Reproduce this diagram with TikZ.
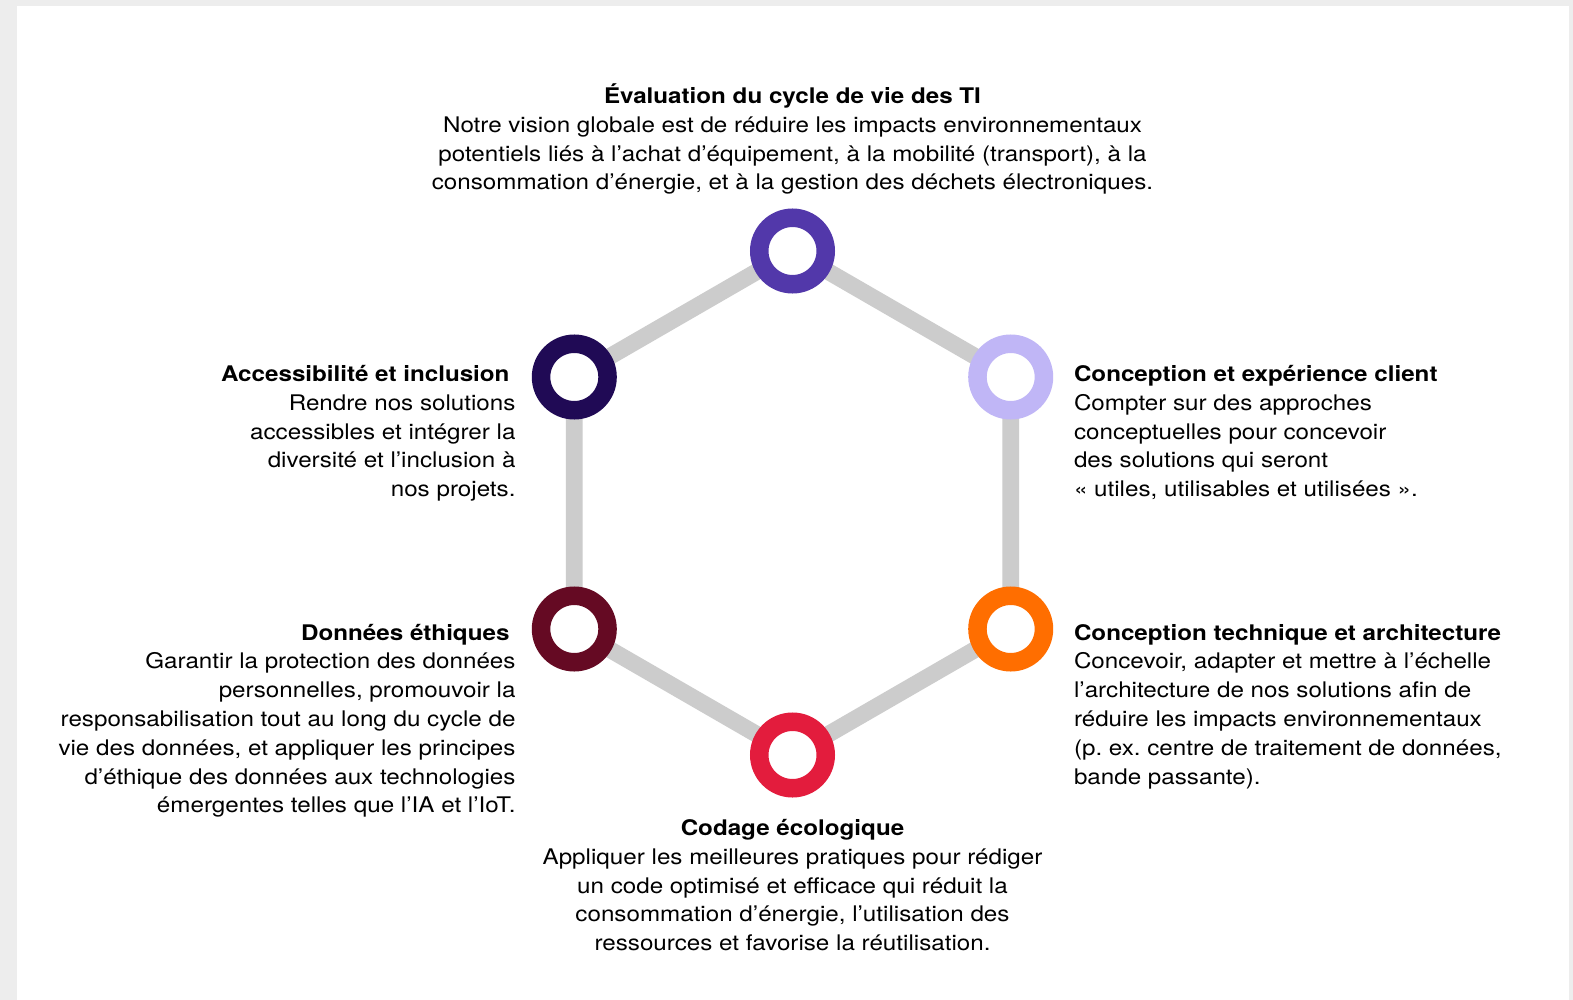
\documentclass[tikz,border=0pt]{standalone}
\usepackage{fontspec}
\setmainfont{TeX Gyre Heros}[FakeStretch=1.125]
\frenchspacing
\pgfdeclarelayer{back}
\pgfdeclarelayer{mid}
\pgfsetlayers{back,mid,main}
\definecolor{bggray}{HTML}{EDEDED}
\definecolor{linegray}{HTML}{CCCCCC}
\definecolor{cTop}{HTML}{5238AA}
\definecolor{cUL}{HTML}{200A55}
\definecolor{cUR}{HTML}{C0B6F6}
\definecolor{cLL}{HTML}{650A23}
\definecolor{cLR}{HTML}{FF6E00}
\definecolor{cB}{HTML}{E31C3D}
\newcommand\tsp{\hspace*{0.278em}}
\newcommand\fl{\rule{0pt}{24pt}}
\tikzset{
  ring/.style={circle, draw=#1, line width=18.5pt, fill=white, minimum size=66.5pt, inner sep=0pt},
  link/.style={draw=linegray, line width=16.7pt},
  txt/.style={inner sep=0pt, outer sep=0pt, font=\fontsize{21.5}{28.8}\selectfont\frenchspacing},
}
\begin{document}
\begin{tikzpicture}[x=1pt,y=-1pt]
\useasboundingbox (0,0) rectangle (1573,1000);
\begin{pgfonlayer}{back}
\fill[bggray] (0,0) rectangle (1573,1000);
\fill[white] (17,6) rectangle (1569,1000);
\end{pgfonlayer}

\node[ring=cTop] (top) at (792.5,251) {};
\node[ring=cUL] (ul) at (574.3,377) {};
\node[ring=cUR] (ur) at (1010.7,377) {};
\node[ring=cLL] (ll) at (574.3,629) {};
\node[ring=cLR] (lr) at (1010.7,629) {};
\node[ring=cB] (bot) at (792.5,755) {};

\begin{pgfonlayer}{mid}
\draw[link] (top.center) -- (ur.center) -- (lr.center) -- (bot.center) -- (ll.center) -- (ul.center) -- cycle;
\end{pgfonlayer}

\node[txt, anchor=north, align=center] (ttop) at (792.5,79.5) {\fl\textbf{Évaluation du cycle de vie des TI}\\
Notre vision globale est de réduire les impacts environnementaux\\
potentiels liés à l’achat d’équipement, à la mobilité (transport), à la\\
consommation d’énergie, et à la gestion des déchets électroniques.};

\node[txt, anchor=north east, align=right] (tul) at (515.5,357.5) {\fl\textbf{Accessibilité et inclusion}\tsp\\
Rendre nos solutions\tsp\\
accessibles et intégrer la\tsp\\
diversité et l’inclusion à\tsp\\
nos projets.};

\node[txt, anchor=north west, align=left] (tur) at (1074,357.5) {\fl\textbf{Conception et expérience client}\\
Compter sur des approches\\
conceptuelles pour concevoir\\
des solutions qui seront\\
« utiles, utilisables et utilisées ».};

\node[txt, anchor=north east, align=right] (tll) at (515.5,616) {\fl\textbf{Données éthiques}\tsp\\
Garantir la protection des données\tsp\\
personnelles, promouvoir la\tsp\\
responsabilisation tout au long du cycle de\tsp\\
vie des données, et appliquer les principes\tsp\\
d’éthique des données aux technologies\tsp\\
émergentes telles que l’IA et l’IoT.};

\node[txt, anchor=north west, align=left] (tlr) at (1074,616) {\fl\textbf{Conception technique et architecture}\\
Concevoir, adapter et mettre à l’échelle\\
l’architecture de nos solutions afin de\\
réduire les impacts environnementaux\\
(p. ex. centre de traitement de données,\\
bande passante).};

\node[txt, anchor=north, align=center] (tbot) at (792.5,811.5) {\fl\textbf{Codage écologique}\\
Appliquer les meilleures pratiques pour rédiger\\
un code optimisé et efficace qui réduit la\\
consommation d’énergie, l’utilisation des\\
ressources et favorise la réutilisation.};
\end{tikzpicture}
\end{document}
